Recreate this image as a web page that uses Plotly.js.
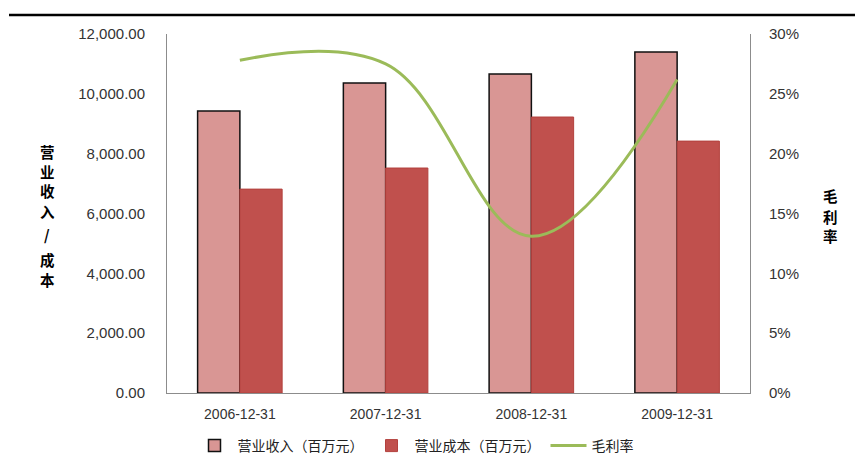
<!DOCTYPE html>
<html>
<head>
<meta charset="utf-8">
<script src="https://cdn.plot.ly/plotly-3.0.1.min.js"></script>
<style>html,body{margin:0;padding:0;background:#fff;}#chart{width:855px;height:475px;}</style>
</head>
<body>
<div id="chart"></div>
<script>
var categories = ['2006-12-31', '2007-12-31', '2008-12-31', '2009-12-31'];
var revenue = [9425, 10360, 10660, 11400];
var cost = [6815, 7520, 9225, 8420];
var margin = [27.8, 27.5, 13.1, 26.2];
var seriesNames = ['营业收入（百万元）', '营业成本（百万元）', '毛利率'];
var leftTicks = [0, 2000, 4000, 6000, 8000, 10000, 12000];
var rightTicks = [0, 5, 10, 15, 20, 25, 30];
var rightTickText = rightTicks.map(function (v) { return v + '%'; });
var leftTitle = ['营', '业', '收', '入', '/', '成', '本'];
var rightTitle = ['毛', '利', '率'];

var cjk = '"Noto Sans CJK SC", "Liberation Sans", sans-serif';
var latin = '"Liberation Sans", Arial, sans-serif';

// plot area geometry (pixels)
var PL = 167, PR = 750, PT = 34, PB = 393;
function px2x(px) { return (px - PL) / (PR - PL); }
function py2y(py) { return (PB - py) / (PB - PT); }

var traces = [
  {
    type: 'bar', name: seriesNames[0], x: categories, y: revenue,
    marker: {color: '#D99694', line: {color: '#111111', width: 1.5}},
    hoverinfo: 'skip'
  },
  {
    type: 'bar', name: seriesNames[1], x: categories, y: cost,
    marker: {color: '#C0504D', line: {color: '#B3403D', width: 1}},
    hoverinfo: 'skip'
  },
  {
    type: 'scatter', mode: 'lines', name: seriesNames[2], x: categories, y: margin,
    yaxis: 'y2',
    line: {color: '#9BBB59', width: 3, shape: 'spline', smoothing: 1.1},
    hoverinfo: 'skip'
  }
];

var annotations = [];
var leftCenters = [151, 171, 191, 212, 234, 259, 279];
leftTitle.forEach(function (ch, i) {
  annotations.push({xref: 'paper', yref: 'paper', x: px2x(47), y: py2y(leftCenters[i]),
    showarrow: false, text: '<b>' + ch + '</b>', xanchor: 'center', yanchor: 'middle',
    borderpad: 0, font: {family: cjk, size: 14.5, color: '#000'}});
});
var rightCenters = [196, 216, 235];
rightTitle.forEach(function (ch, i) {
  annotations.push({xref: 'paper', yref: 'paper', x: px2x(830), y: py2y(rightCenters[i]),
    showarrow: false, text: '<b>' + ch + '</b>', xanchor: 'center', yanchor: 'middle',
    borderpad: 0, font: {family: cjk, size: 14.5, color: '#000'}});
});

var layout = {
  width: 855, height: 475,
  margin: {l: PL, r: 855 - PR, t: PT, b: 475 - PB},
  paper_bgcolor: '#ffffff', plot_bgcolor: '#ffffff',
  barmode: 'group', bargap: 0.42, bargroupgap: 0,
  showlegend: true,
  legend: {
    orientation: 'h', x: px2x(415), xanchor: 'center', y: py2y(446), yanchor: 'middle',
    font: {family: cjk, size: 14, color: '#222'}, traceorder: 'normal',
    itemwidth: 36
  },
  xaxis: {
    type: 'category', showgrid: false, zeroline: false,
    showline: true, linecolor: '#8c8c8c', linewidth: 1,
    ticks: '', tickfont: {family: latin, size: 14, color: '#333'},
    ticklabelstandoff: 8
  },
  yaxis: {
    range: [0, 12000], tickvals: leftTicks, tickformat: ',.2f',
    showgrid: false, zeroline: false,
    showline: true, linecolor: '#8c8c8c', linewidth: 1,
    ticks: '', tickfont: {family: latin, size: 15, color: '#333'},
    ticklabelstandoff: 18
  },
  yaxis2: {
    overlaying: 'y', side: 'right', range: [0, 30],
    tickmode: 'array', tickvals: rightTicks, ticktext: rightTickText,
    showgrid: false, zeroline: false,
    showline: true, linecolor: '#8c8c8c', linewidth: 1,
    ticks: '', tickfont: {family: latin, size: 15, color: '#333'},
    ticklabelstandoff: 15
  },
  shapes: [
    {type: 'line', xref: 'paper', yref: 'paper', x0: px2x(9), x1: px2x(870), y0: py2y(15), y1: py2y(15),
     line: {color: '#000', width: 2.5}}
  ],
  annotations: annotations
};

Plotly.newPlot('chart', traces, layout, {displayModeBar: false, staticPlot: true});
</script>
</body>
</html>
